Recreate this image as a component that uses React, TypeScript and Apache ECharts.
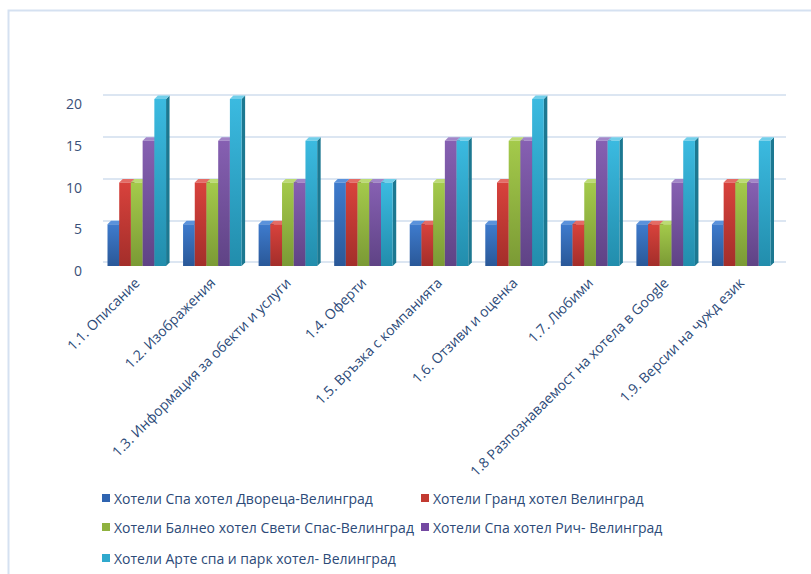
import React, { useEffect, useRef } from "react";
import * as echarts from "echarts";

const categories = [
  "1.1. Описание",
  "1.2. Изображения",
  "1.3. Информация за обекти и услуги",
  "1.4. Оферти",
  "1.5. Връзка с компанията",
  "1.6. Отзиви и оценка",
  "1.7. Любими",
  "1.8 Разпознаваемост на хотела в Google",
  "1.9. Версии на чужд език",
];

const seriesNames = [
  "Хотели Спа хотел Двореца-Велинград",
  "Хотели Гранд хотел Велинград",
  "Хотели Балнео хотел Свети Спас-Велинград",
  "Хотели Спа хотел Рич- Велинград",
  "Хотели Арте спа и парк хотел- Велинград",
];

const dvoretsa = [5, 5, 5, 10, 5, 5, 5, 5, 5];
const grand = [10, 10, 5, 10, 5, 10, 5, 5, 10];
const balneo = [10, 10, 10, 10, 10, 15, 10, 5, 10];
const rich = [15, 15, 10, 10, 15, 15, 15, 10, 10];
const arte = [20, 20, 15, 10, 15, 20, 15, 15, 15];

const seriesValues = [dvoretsa, grand, balneo, rich, arte];

const yTicks = [0, 5, 10, 15, 20];

const palette = [
  { legend: "#2F64B0", top: "#5A92DC", f1: "#3E7BCD", f2: "#2A5898", side: "#224A82" },
  { legend: "#C23A31", top: "#E46C66", f1: "#D8423C", f2: "#A32E2A", side: "#8A2522" },
  { legend: "#8FB23F", top: "#BCDB74", f1: "#A4CA4B", f2: "#7B9A35", side: "#66802B" },
  { legend: "#7449A2", top: "#A286C8", f1: "#8660B2", f2: "#5F4385", side: "#4F376F" },
  { legend: "#30A9CD", top: "#72CFEA", f1: "#3BBAE0", f2: "#228DAC", side: "#1C7891" },
];

export default function App() {
  const ref = useRef<HTMLDivElement>(null);
  useEffect(() => {
    if (!ref.current) return;
    const chart = echarts.init(ref.current, undefined, { renderer: "svg" });
    const depth = 3.5;
    const nSeries = seriesValues.length;

    const series: any[] = seriesValues.map((vals, si) => ({
      type: "custom",
      name: seriesNames[si],
      xAxisIndex: 0,
      yAxisIndex: 0,
      itemStyle: { color: palette[si].legend },
      encode: { x: 0, y: 1 },
      data: vals.map((v, ci) => [ci, v]),
      renderItem: (params: any, api: any) => {
        const ci = api.value(0);
        const v = api.value(1);
        const base = api.coord([ci, 0]);
        const topPt = api.coord([ci, v]);
        const band = api.size([1, 0])[0];
        const bw = band * 0.155;
        const x0 = base[0] - (nSeries * bw) / 2 + si * bw;
        const yT = topPt[1];
        const yB = base[1];
        const p = palette[si];
        return {
          type: "group",
          children: [
            {
              type: "polygon",
              shape: {
                points: [
                  [x0 + bw, yT],
                  [x0 + bw + depth, yT - depth],
                  [x0 + bw + depth, yB - depth],
                  [x0 + bw, yB],
                ],
              },
              style: { fill: p.side },
            },
            {
              type: "polygon",
              shape: {
                points: [
                  [x0, yT],
                  [x0 + depth, yT - depth],
                  [x0 + bw + depth, yT - depth],
                  [x0 + bw, yT],
                ],
              },
              style: { fill: p.top },
            },
            {
              type: "rect",
              shape: { x: x0, y: yT, width: bw, height: yB - yT },
              style: {
                fill: new echarts.graphic.LinearGradient(0, 0, 0, 1, [
                  { offset: 0, color: p.f1 },
                  { offset: 1, color: p.f2 },
                ]),
              },
            },
          ],
        };
      },
    }));

    const legendPos = [
      { left: 102, top: 491 },
      { left: 421, top: 491 },
      { left: 102, top: 520 },
      { left: 421, top: 520 },
      { left: 102, top: 551 },
    ];

    const legends = seriesNames.map((name, i) => ({
      data: [name],
      left: legendPos[i].left,
      top: legendPos[i].top,
      padding: 0,
      itemWidth: 8,
      itemHeight: 8,
      itemGap: 4,
      icon: "rect",
      selectedMode: false,
      textStyle: {
        color: "#2C4A78",
        fontSize: 14,
        fontFamily: "Open Sans",
        padding: [0, 0, 0, -1],
      },
    }));

    chart.setOption({
      animation: false,
      backgroundColor: "#ffffff",
      graphic: [
        {
          type: "rect",
          left: 6,
          top: 8,
          shape: { width: 900, height: 700 },
          style: { fill: "none", stroke: "#D5E1F1", lineWidth: 2 },
          silent: true,
        },
      ],
      legend: legends,
      grid: [
        { left: 99, right: 32, top: 99, bottom: 308 },
        { left: 103, right: 25, top: 95, bottom: 312 },
      ],
      xAxis: [
        {
          type: "category",
          gridIndex: 0,
          data: categories,
          axisLine: { show: false },
          axisTick: { show: false },
          axisLabel: {
            interval: 0,
            rotate: 45,
            margin: 14,
            fontSize: 14,
            fontFamily: "Open Sans",
            color: "#2C4A78",
          },
        },
        {
          type: "category",
          gridIndex: 1,
          data: categories,
          show: false,
        },
      ],
      yAxis: [
        {
          type: "value",
          gridIndex: 0,
          min: 0,
          max: 20,
          interval: 5,
          axisLine: { show: false },
          axisTick: { show: false },
          splitLine: { show: false },
          axisLabel: {
            margin: 17,
            fontSize: 14,
            fontFamily: "Open Sans",
            color: "#3A5078",
            verticalAlign: "top",
            lineHeight: 9,
            formatter: (v: number) => (yTicks.includes(v) ? String(v) : ""),
          },
        },
        {
          type: "value",
          gridIndex: 1,
          min: 0,
          max: 20,
          interval: 5,
          axisLine: { show: false },
          axisTick: { show: false },
          axisLabel: { show: false },
          splitLine: { show: true, lineStyle: { color: "#DCE6F2", width: 2 } },
        },
      ],
      series,
    });
    return () => chart.dispose();
  }, []);
  return (
    <div
      ref={ref}
      style={{ position: "fixed", left: 0, top: 0, width: 811, height: 574 }}
    />
  );
}
